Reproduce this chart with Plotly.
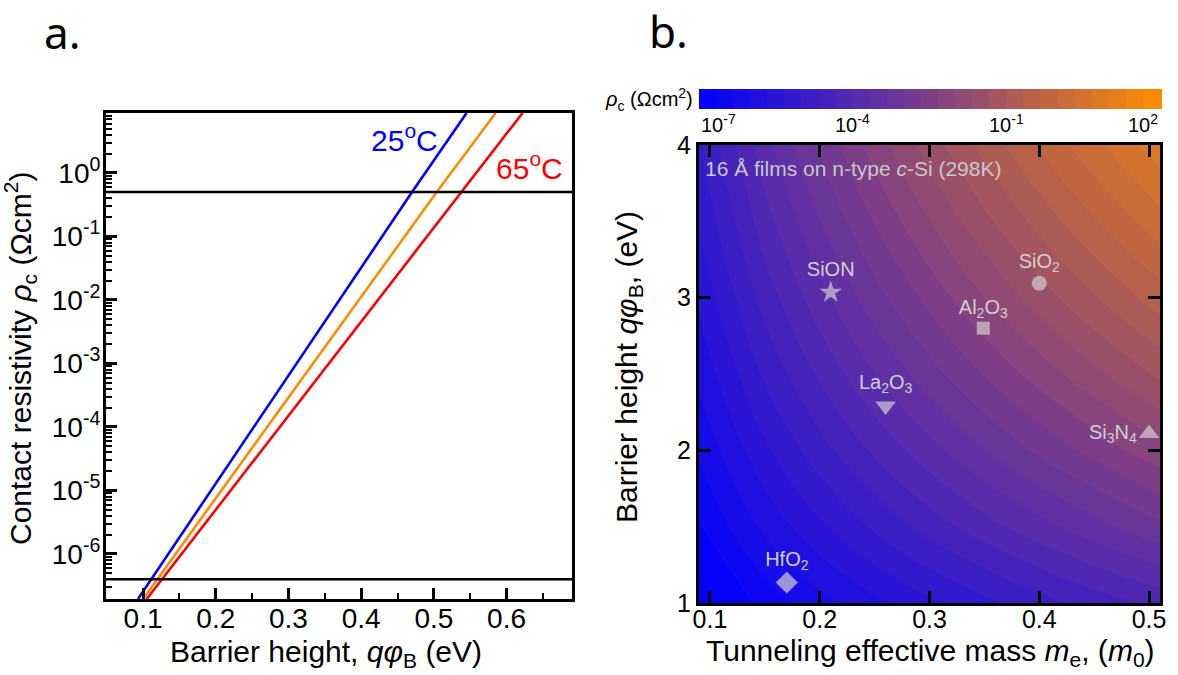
"""Contact resistivity vs barrier height (a) and tunneling map for 16 A films (b)."""

import plotly.graph_objects as go

W, H = 1178, 675
FONT = "Liberation Sans, Arial, sans-serif"

# ---- panel a: rho_c vs barrier height at three temperatures ----
phi_25c = [0.093, 0.470, 0.545]
rho_25c = [1.95e-7, 0.5, 8.8]
phi_45c = [0.100, 0.504, 0.585]
rho_45c = [1.95e-7, 0.5, 8.8]
phi_65c = [0.105, 0.537, 0.622]
rho_65c = [1.95e-7, 0.5, 8.8]
rho_limits = [0.5, 4e-7]
decades_a = [1e-6, 1e-5, 1e-4, 1e-3, 1e-2, 1e-1, 1]
decade_labels_a = ["10<sup>-6</sup>", "10<sup>-5</sup>", "10<sup>-4</sup>", "10<sup>-3</sup>",
                   "10<sup>-2</sup>", "10<sup>-1</sup>", "10<sup>0</sup>"]

# ---- panel b: log10(rho_c) over effective mass and barrier height ----
mass = [0.09, 0.15, 0.20, 0.25, 0.30, 0.35, 0.40, 0.45, 0.51]
barrier = [1.0, 1.5, 2.0, 2.5, 3.0, 3.5, 4.0]
log_rho = [
    [-7.16, -6.54, -6.12, -5.74, -5.40, -5.09, -4.80, -4.52, -4.22],
    [-6.68, -5.92, -5.40, -4.94, -4.52, -4.14, -3.79, -3.45, -3.07],
    [-6.28, -5.40, -4.80, -4.27, -3.79, -3.34, -2.93, -2.55, -2.11],
    [-5.92, -4.94, -4.27, -3.67, -3.13, -2.64, -2.18, -1.75, -1.26],
    [-5.60, -4.52, -3.79, -3.13, -2.55, -2.00, -1.50, -1.03, -0.49],
    [-5.30, -4.14, -3.34, -2.64, -2.00, -1.42, -0.88, -0.36, 0.21],
    [-5.03, -3.79, -2.93, -2.18, -1.50, -0.88, -0.29, 0.25, 0.87],
]
cbar_min, cbar_max = -7, 2
cbar_ticks = [-7, -4, -1, 2]
cbar_labels = ["10<sup>-7</sup>", "10<sup>-4</sup>", "10<sup>-1</sup>", "10<sup>2</sup>"]

films = ["SiON", "SiO<sub>2</sub>", "Al<sub>2</sub>O<sub>3</sub>", "La<sub>2</sub>O<sub>3</sub>",
         "Si<sub>3</sub>N<sub>4</sub>", "HfO<sub>2</sub>"]
film_mass = [0.21, 0.40, 0.349, 0.26, 0.50, 0.17]
film_barrier = [3.035, 3.094, 2.80, 2.29, 2.11, 1.134]
film_symbols = ["star", "circle", "square", "triangle-down", "triangle-up", "diamond"]
film_sizes = [17, 15, 13, 18, 18, 17]
film_textpos = ["top center", "top center", "top center", "top center", "middle left", "top center"]

# colour bar placement (pixels)
CB_LEFT, CB_RIGHT, CB_TOP = 699, 1160, 89


def px_x(px):
    return px / W


def px_y(py):
    return 1 - py / H


fig = go.Figure()

for xs, ys, color in [(phi_25c, rho_25c, "#0000ff"), (phi_45c, rho_45c, "#ff8c00"),
                      (phi_65c, rho_65c, "#ff0000")]:
    fig.add_trace(go.Scatter(x=xs, y=ys, mode="lines", line=dict(color=color, width=2.6),
                             xaxis="x", yaxis="y", showlegend=False))

for level in rho_limits:
    fig.add_trace(go.Scatter(x=[0.0, 1.0], y=[level, level], mode="lines",
                             line=dict(color="black", width=2.6), xaxis="x", yaxis="y",
                             showlegend=False))

fig.add_trace(go.Contour(
    x=mass, y=barrier, z=log_rho, xaxis="x2", yaxis="y2",
    zmin=cbar_min, zmax=cbar_max, autocontour=False,
    contours=dict(start=cbar_min, end=cbar_max, size=1 / 3, coloring="fill"),
    line=dict(width=0, smoothing=1.3),
    colorscale=[[0, "rgb(0,0,255)"], [0.5, "rgb(125,62,135)"], [1, "rgb(255,140,0)"]],
    colorbar=dict(orientation="h", x=px_x((CB_LEFT + CB_RIGHT) / 2), xanchor="center",
                  y=px_y(CB_TOP), yanchor="top", len=(CB_RIGHT - CB_LEFT) / W, thickness=20,
                  showticklabels=False, ticks="", outlinewidth=0, xpad=0, ypad=0),
    hoverinfo="skip",
))

fig.add_trace(go.Scatter(
    x=film_mass, y=film_barrier, mode="markers+text", text=films, textposition=film_textpos,
    textfont=dict(size=20, color="#d0d0d0", family=FONT),
    marker=dict(symbol=film_symbols, size=film_sizes, color="#cfcfcf", line=dict(width=0)),
    xaxis="x2", yaxis="y2", showlegend=False, cliponaxis=False,
))

axis_common = dict(showgrid=False, zeroline=False, showline=True, linecolor="black",
                   ticks="inside", tickcolor="black", linewidth=3)

fig.update_layout(
    width=W, height=H,
    margin=dict(l=0, r=0, t=0, b=0, autoexpand=False),
    paper_bgcolor="white", plot_bgcolor="white",
    font=dict(family=FONT, color="black"),
    xaxis=dict(axis_common, domain=[px_x(106), px_x(572)], range=[0.049, 0.69], anchor="y",
               dtick=0.1, tick0=0, ticklen=11, tickwidth=2.5, mirror=True,
               tickfont=dict(size=28, family=FONT), ticklabelstandoff=-8,
               minor=dict(ticks="inside", dtick=0.05, ticklen=6, tickwidth=2, tickcolor="black")),
    yaxis=dict(axis_common, domain=[px_y(599), px_y(113)], type="log", range=[-6.71, 0.944],
               anchor="x", tickmode="array", tickvals=decades_a, ticktext=decade_labels_a,
               ticklen=11, tickwidth=2.5, mirror=True, tickfont=dict(size=28, family=FONT),
               ticklabelstandoff=-3,
               minor=dict(ticks="inside", dtick="D1", ticklen=6, tickwidth=1.5, tickcolor="black")),
    xaxis2=dict(axis_common, domain=[px_x(CB_LEFT), px_x(CB_RIGHT)], range=[0.09, 0.51],
                anchor="y2", dtick=0.1, tick0=0.1, ticklen=12, tickwidth=3, mirror="ticks",
                tickfont=dict(size=25, family=FONT), ticklabelstandoff=-8),
    yaxis2=dict(axis_common, domain=[px_y(603), px_y(145)], range=[1, 4], anchor="x2",
                dtick=1, ticklen=12, tickwidth=3, mirror="ticks",
                tickfont=dict(size=25, family=FONT)),
)

# colour bar tick labels: ends aligned to the bar edges as in the original
for i, (val, lab) in enumerate(zip(cbar_ticks, cbar_labels)):
    frac = (val - cbar_min) / (cbar_max - cbar_min)
    anchor = "left" if i == 0 else ("right" if i == len(cbar_ticks) - 1 else "center")
    fig.add_annotation(x=px_x(CB_LEFT) + frac * (CB_RIGHT - CB_LEFT) / W, y=px_y(123),
                       xref="paper", yref="paper", text=lab, showarrow=False,
                       xanchor=anchor, yanchor="middle", font=dict(size=20, family=FONT))

# axis titles
titles = [
    ("Barrier height, <i>qφ</i><sub>B</sub> (eV)", 326, 653, 0),
    ("Contact resistivity <i>ρ</i><sub>c</sub> (Ωcm<sup>2</sup>)", 20, 358, -90),
    ("Tunneling effective mass <i>m</i><sub>e</sub>, (<i>m</i><sub>0</sub>)", 930, 652, 0),
    ("Barrier height <i>qφ</i><sub>B</sub>, (eV)", 628, 367, -90),
]
for text, tx, ty, angle in titles:
    fig.add_annotation(x=px_x(tx), y=px_y(ty), xref="paper", yref="paper", text=text,
                       textangle=angle, showarrow=False, xanchor="center", yanchor="middle",
                       font=dict(size=30, family=FONT))

fig.add_annotation(x=0.460, y=0.551, xref="x", yref="y", text="25<sup>o</sup>C", showarrow=False,
                   font=dict(size=30, color="#0000ff", family=FONT))
fig.add_annotation(x=0.632, y=0.110, xref="x", yref="y", text="65<sup>o</sup>C", showarrow=False,
                   font=dict(size=30, color="#ff0000", family=FONT))
fig.add_annotation(x=px_x(703), y=px_y(168), xref="paper", yref="paper", xanchor="left",
                   yanchor="middle", text="16 Å films on n-type <i>c</i>-Si (298K)",
                   showarrow=False, font=dict(size=21, color="#c8c8c8", family=FONT))
fig.add_annotation(x=px_x(695), y=px_y(99), xref="paper", yref="paper", xanchor="right",
                   yanchor="middle", text="<i>ρ</i><sub>c</sub> (Ωcm<sup>2</sup>)",
                   showarrow=False, font=dict(size=20, family=FONT))
fig.add_annotation(x=px_x(62), y=px_y(32), xref="paper", yref="paper", text="a.",
                   xanchor="center", yanchor="middle", showarrow=False,
                   font=dict(size=44, family="Noto Sans"))
fig.add_annotation(x=px_x(668), y=px_y(31), xref="paper", yref="paper", text="b.",
                   xanchor="center", yanchor="middle", showarrow=False,
                   font=dict(size=44, family="Noto Sans"))

fig.write_html("out.html", config=dict(displayModeBar=False),
               post_script="document.body.style.margin = '0px';")
